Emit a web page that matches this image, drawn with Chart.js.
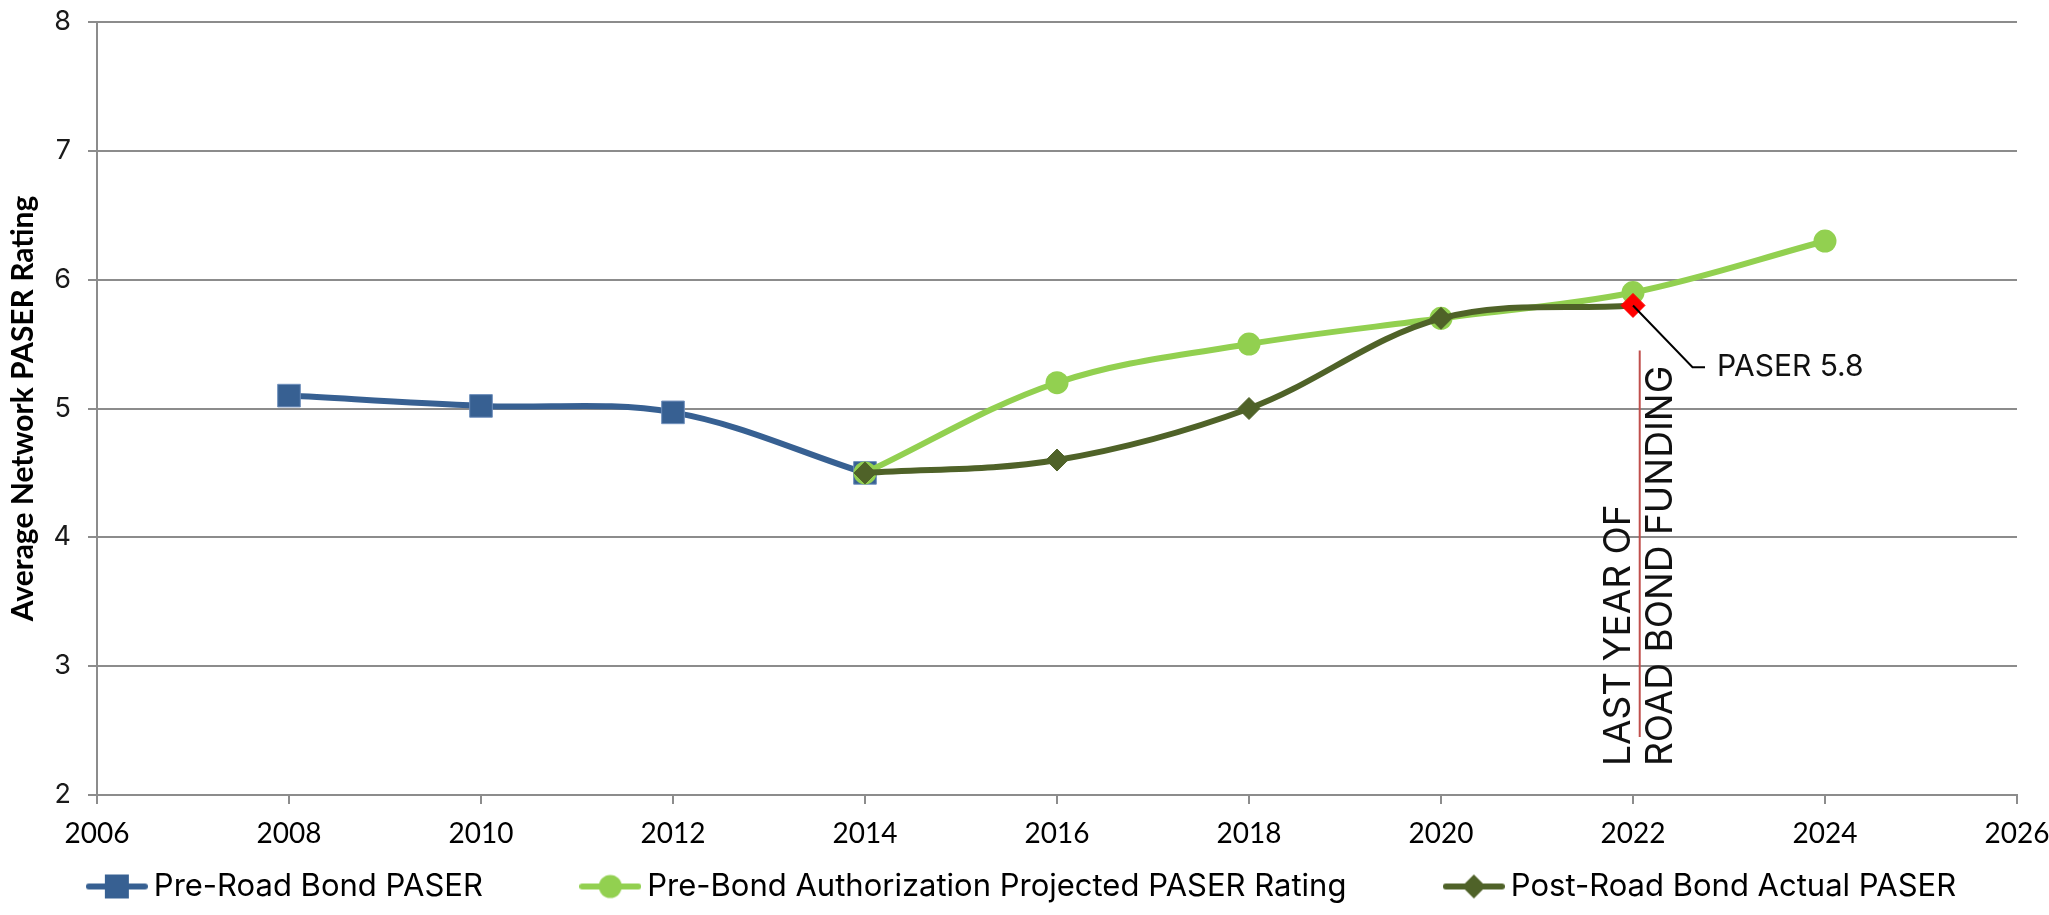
<!DOCTYPE html>
<html>
<head>
<meta charset="utf-8">
<script src="https://cdn.jsdelivr.net/npm/chart.js@4.4.1/dist/chart.umd.min.js"></script>
<style>
  html, body { margin: 0; padding: 0; background: #fff; }
</style>
</head>
<body>
<canvas id="paserChart" width="2049" height="915"></canvas>
<script>
// Average network PASER rating, road bond program
const yearTicks = [2006, 2008, 2010, 2012, 2014, 2016, 2018, 2020, 2022, 2024, 2026];
const ratingTicks = [2, 3, 4, 5, 6, 7, 8];

const preBondYears = [2008, 2010, 2012, 2014];
const preBondPaser = [5.1, 5.02, 4.97, 4.5];

const projectedYears = [2014, 2016, 2018, 2020, 2022, 2024];
const projectedPaser = [4.5, 5.2, 5.5, 5.7, 5.9, 6.3];

const actualYears = [2014, 2016, 2018, 2020, 2022];
const actualPaser = [4.5, 4.6, 5.0, 5.7, 5.8];

const seriesNames = ['Pre-Road Bond PASER', 'Pre-Bond Authorization Projected PASER Rating', 'Post-Road Bond Actual PASER'];
const fundingYear = 2022;
const fundingLabel = ['LAST YEAR OF', 'ROAD BOND FUNDING'];
const calloutText = 'PASER 5.8';

const BLUE = '#376092';
const LIGHT_GREEN = '#92d050';
const OLIVE = '#4f6228';
const GRID = '#8c8c8c';
const GOTHAM = 'Inter, "Noto Sans", sans-serif';
const CALIBRI = 'Lato, "Liberation Sans", sans-serif';
const legendFontSize = 31;

const toPoints = (xs, ys) => xs.map((x, i) => ({ x, y: ys[i] }));

// legend icon: line with the series marker in the middle
function legendIcon(color, marker) {
    const c = document.createElement('canvas');
    c.width = 62; c.height = 28;
    const g = c.getContext('2d');
    g.strokeStyle = color; g.fillStyle = color; g.lineWidth = 6; g.lineCap = 'round';
    g.beginPath(); g.moveTo(3, 14); g.lineTo(59, 14); g.stroke();
    g.beginPath();
    if (marker === 'rect') {
        g.rect(19, 2, 24, 24);
    } else if (marker === 'circle') {
        g.arc(31, 14, 11.5, 0, Math.PI * 2);
    } else {
        g.moveTo(31, 2); g.lineTo(43, 14); g.lineTo(31, 26); g.lineTo(19, 14); g.closePath();
    }
    g.fill();
    return c;
}

// trailing spaces give the wide gaps between legend entries
function padLabel(text, px) {
    const m = document.createElement('canvas').getContext('2d');
    m.font = legendFontSize + 'px ' + GOTHAM;
    const sw = m.measureText(' ').width;
    return text + ' '.repeat(Math.max(0, Math.round(px / sw)));
}

const fundingNote = {
    id: 'fundingNote',
    afterDatasetsDraw(chart) {
        const { ctx, scales: { x, y } } = chart;
        ctx.save();
        // red marker line
        const lx = x.getPixelForValue(fundingYear + 0.07);
        ctx.strokeStyle = '#c0504d';
        ctx.lineWidth = 2;
        ctx.beginPath();
        ctx.moveTo(lx, y.getPixelForValue(5.45));
        ctx.lineTo(lx, y.getPixelForValue(2.45));
        ctx.stroke();

        // rotated caption
        ctx.fillStyle = '#111';
        ctx.font = '37px ' + GOTHAM;
        ctx.textAlign = 'left';
        ctx.textBaseline = 'middle';
        [[fundingLabel[0], -0.15], [fundingLabel[1], 0.29]].forEach(([t, dx]) => {
            ctx.save();
            ctx.translate(x.getPixelForValue(fundingYear + dx), y.getPixelForValue(2.225));
            ctx.rotate(-Math.PI / 2);
            ctx.fillText(t, 0, 0);
            ctx.restore();
        });

        // callout leader for the last actual value
        const px = x.getPixelForValue(actualYears[actualYears.length - 1]);
        const py = y.getPixelForValue(actualPaser[actualPaser.length - 1]);
        const ex = x.getPixelForValue(fundingYear + 0.62);
        const ey = y.getPixelForValue(5.32);
        ctx.strokeStyle = '#000';
        ctx.lineWidth = 2;
        ctx.beginPath();
        ctx.moveTo(px, py);
        ctx.lineTo(ex, ey);
        ctx.lineTo(x.getPixelForValue(fundingYear + 0.75), ey);
        ctx.stroke();
        ctx.font = '30px ' + GOTHAM;
        ctx.fillText(calloutText, x.getPixelForValue(fundingYear + 0.875), ey);
        ctx.restore();
    }
};

const icons = [legendIcon(BLUE, 'rect'), legendIcon(LIGHT_GREEN, 'circle'), legendIcon(OLIVE, 'diamond')];

new Chart(document.getElementById('paserChart'), {
    type: 'line',
    data: {
        datasets: [
            {
                label: seriesNames[0],
                data: toPoints(preBondYears, preBondPaser),
                borderColor: BLUE,
                backgroundColor: BLUE,
                borderWidth: 6,
                tension: 0.35,
                pointStyle: 'rect',
                pointRadius: 16,
                pointBorderWidth: 1,
                pointBorderColor: '#6f8fbc',
                order: 3
            },
            {
                label: seriesNames[1],
                data: toPoints(projectedYears, projectedPaser),
                borderColor: LIGHT_GREEN,
                backgroundColor: LIGHT_GREEN,
                borderWidth: 6,
                tension: 0.35,
                pointStyle: 'circle',
                pointRadius: 11.5,
                pointBorderWidth: 0,
                order: 2
            },
            {
                label: seriesNames[2],
                data: toPoints(actualYears, actualPaser),
                borderColor: OLIVE,
                backgroundColor: ['#4f6228', '#4f6228', '#4f6228', '#4f6228', '#ff0000'],
                pointBorderColor: ['#4f6228', '#4f6228', '#4f6228', '#4f6228', '#ff0000'],
                borderWidth: 6,
                tension: 0.35,
                pointStyle: 'rectRot',
                pointRadius: [11, 11, 11, 11, 12],
                pointBorderWidth: 1,
                order: 1
            }
        ]
    },
    options: {
        responsive: false,
        animation: false,
        devicePixelRatio: 1,
        layout: { padding: { left: 34.5, right: 32, top: 22, bottom: 3 } },
        scales: {
            x: {
                type: 'linear',
                min: yearTicks[0],
                max: yearTicks[yearTicks.length - 1],
                afterBuildTicks: axis => { axis.ticks = yearTicks.map(v => ({ value: v })); },
                afterFit: axis => { axis.height = 66; axis.paddingLeft = 0; axis.paddingRight = 0; },
                grid: { drawOnChartArea: false, drawTicks: true, tickLength: 9, color: GRID, lineWidth: 2 },
                border: { display: true, color: GRID, width: 2 },
                ticks: {
                    color: '#000',
                    font: { family: CALIBRI, size: 28 },
                    padding: 13,
                    maxRotation: 0,
                    callback: v => String(v)
                }
            },
            y: {
                min: ratingTicks[0],
                max: ratingTicks[ratingTicks.length - 1],
                afterBuildTicks: axis => { axis.ticks = ratingTicks.map(v => ({ value: v })); },
                afterFit: axis => { axis.width = 62.5; axis.paddingTop = 0; axis.paddingBottom = 0; },
                grid: { color: GRID, lineWidth: 2, drawTicks: true, tickLength: 9 },
                border: { display: true, color: GRID, width: 2 },
                ticks: {
                    color: '#1a1a1a',
                    font: { family: GOTHAM, size: 27 },
                    padding: 17
                },
                title: {
                    display: true,
                    text: 'Average Network PASER Rating',
                    color: '#000',
                    font: { family: CALIBRI, size: 30, weight: 'bold', lineHeight: 1 },
                    padding: { top: -26, bottom: 0 }
                }
            }
        },
        plugins: {
            legend: {
                position: 'bottom',
                labels: {
                    usePointStyle: true,
                    pointStyleWidth: 43,
                    padding: 10,
                    color: '#000',
                    font: { family: GOTHAM, size: legendFontSize },
                    generateLabels: chart => chart.data.datasets.map((ds, i) => ({
                        text: i < chart.data.datasets.length - 1 ? padLabel(ds.label, 92) : ds.label,
                        pointStyle: icons[i],
                        fillStyle: ds.borderColor,
                        strokeStyle: ds.borderColor,
                        lineWidth: 0,
                        hidden: false,
                        datasetIndex: i
                    }))
                }
            },
            tooltip: { enabled: false }
        }
    },
    plugins: [fundingNote]
});
</script>
</body>
</html>
